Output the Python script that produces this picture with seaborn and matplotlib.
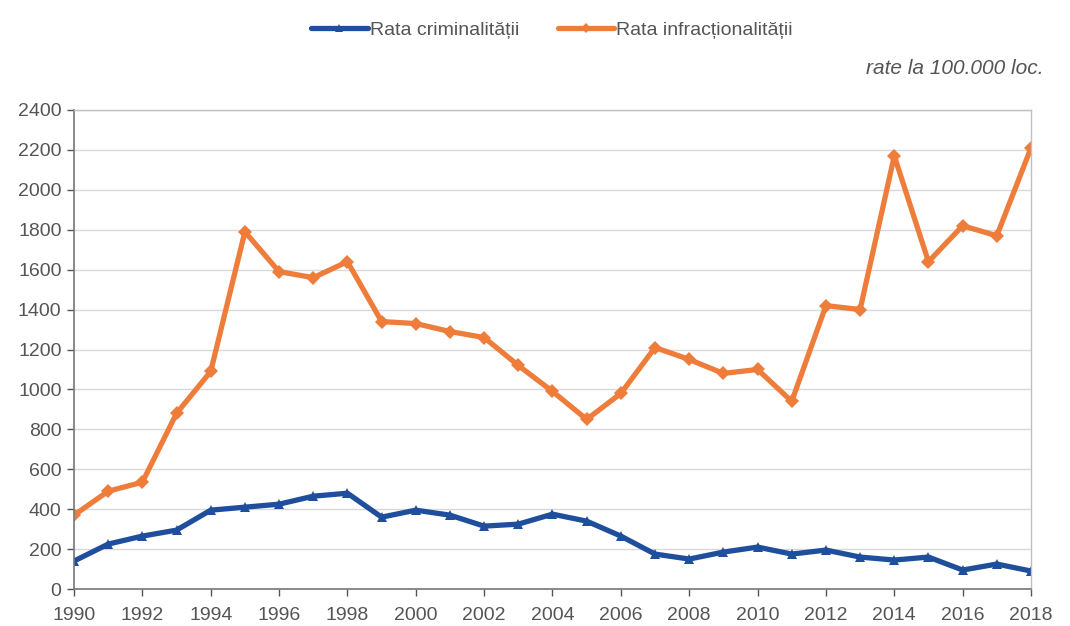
import numpy as np
import pandas as pd
import matplotlib
matplotlib.use("Agg")
import matplotlib.pyplot as plt
import seaborn as sns

years = list(range(1990, 2019))
rata_criminalitatii = [140, 225, 265, 295, 395, 410, 425, 465, 480, 360,
                       395, 370, 315, 325, 375, 340, 265, 175, 150, 185,
                       210, 175, 195, 160, 145, 160, 95, 125, 90]
rata_infractionalitatii = [370, 490, 535, 880, 1090, 1790, 1590, 1560, 1640, 1340,
                           1330, 1290, 1260, 1120, 990, 850, 980, 1210, 1150, 1080,
                           1100, 940, 1420, 1400, 2170, 1640, 1820, 1770, 2210]
series_names = ["Rata criminalității", "Rata infracționalității"]
y_ticks = list(range(0, 2401, 200))
x_ticks = list(range(1990, 2019, 2))

df = pd.concat([
    pd.DataFrame({"an": years, "rata": rata_criminalitatii, "serie": series_names[0]}),
    pd.DataFrame({"an": years, "rata": rata_infractionalitatii, "serie": series_names[1]}),
])

sns.set_style("white")
plt.rcParams['font.family'] = ['Liberation Sans Narrow', 'Liberation Sans', 'DejaVu Sans']
text_col = "#555555"

fig = plt.figure(figsize=(10.7, 6.26), dpi=100)
ax = fig.add_axes([74 / 1070, 1 - 589 / 626, (1031 - 74) / 1070, (589 - 110) / 626])

palette = {series_names[0]: "#1f4e9c", series_names[1]: "#ee7d3b"}
sns.lineplot(data=df, x="an", y="rata", hue="serie", style="serie",
             markers={series_names[0]: "^", series_names[1]: "D"},
             dashes=False, palette=palette, linewidth=3.8,
             markersize=7, markeredgewidth=0, ax=ax, legend=False)

ax.set_xlim(1990, 2018)
ax.set_ylim(0, 2400)
ax.set_xticks(x_ticks)
ax.set_yticks(y_ticks)
ax.set_xlabel("")
ax.set_ylabel("")
ax.yaxis.grid(True, color="#d9d9d9", linewidth=1)
ax.tick_params(axis="both", labelsize=14, colors=text_col, length=5, width=1,
               direction="out", left=True, bottom=True)
ax.tick_params(axis="x", pad=8)
ax.tick_params(axis="y", pad=4)
for side in ["left", "bottom"]:
    ax.spines[side].set_color("#777777")
    ax.spines[side].set_linewidth(1.2)
for side in ["top", "right"]:
    ax.spines[side].set_color("#bfbfbf")
    ax.spines[side].set_linewidth(1)

handles = [plt.Line2D([], [], color=palette[series_names[0]], marker="^", lw=3.8, ms=6, mew=0),
           plt.Line2D([], [], color=palette[series_names[1]], marker="D", lw=3.8, ms=5, mew=0)]
fig.legend(handles, series_names, loc="center", bbox_to_anchor=(552 / 1070, 1 - 30 / 626),
           ncol=2, frameon=False, fontsize=14, labelcolor=text_col,
           handlelength=2.9, handletextpad=0.1, columnspacing=2.0)

fig.text(1043 / 1070, 1 - 68 / 626, "rate la 100.000 loc.", ha="right", va="center",
         fontsize=15, style="italic", color=text_col)

fig.savefig("out.png", dpi=100)
